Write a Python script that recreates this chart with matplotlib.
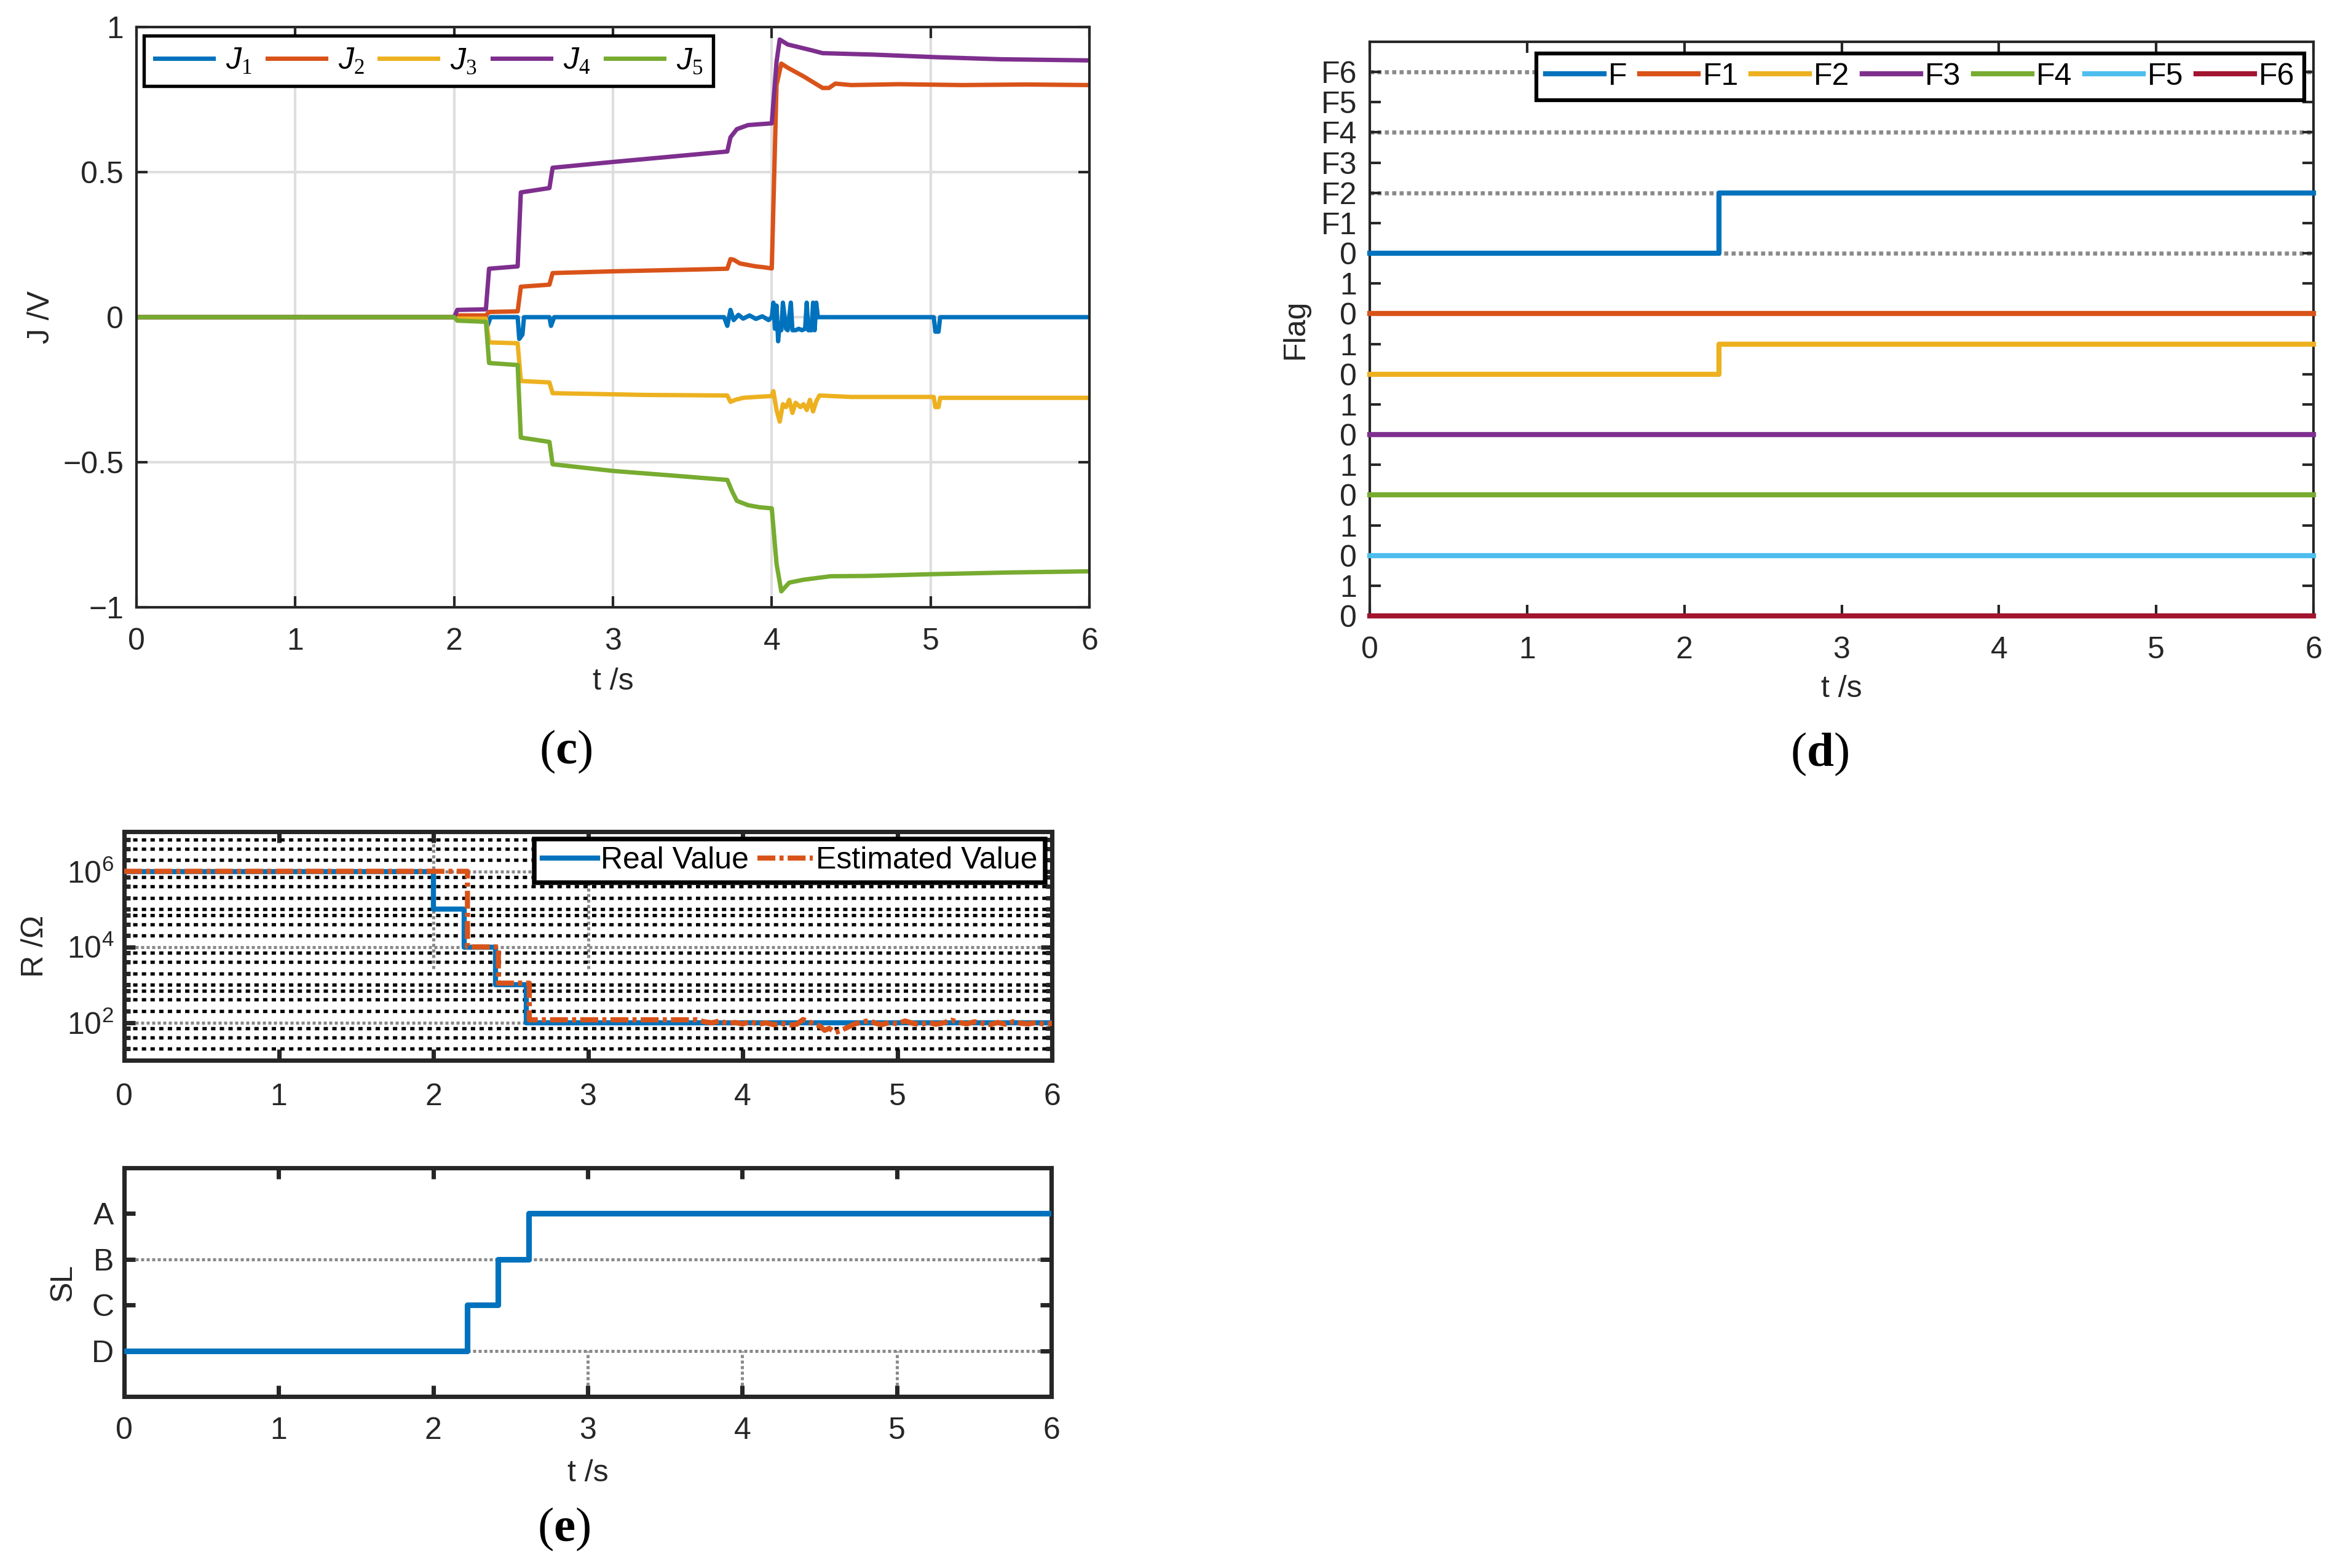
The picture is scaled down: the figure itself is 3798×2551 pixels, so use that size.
import numpy as np
import matplotlib
matplotlib.use("Agg")
import matplotlib.pyplot as plt
from matplotlib.ticker import FixedLocator, NullFormatter

plt.rcParams["font.family"] = ["Liberation Sans", "DejaVu Sans"]
plt.rcParams["mathtext.fontset"] = "custom"
plt.rcParams["mathtext.it"] = "Liberation Sans:italic"
plt.rcParams["mathtext.rm"] = "Liberation Serif"
plt.rcParams["mathtext.bf"] = "Liberation Serif:bold"

DARK = "#262626"
colors = ["#0072BD", "#D95319", "#EDB120", "#7E2F8E", "#77AC30", "#4DBEEE", "#A2142F"]

# ---------- (c) J values, (t, J) points
J1 = [(0, 0), (2.20, 0), (2.21, -0.03), (2.23, 0), (2.40, 0), (2.41, -0.075), (2.43, -0.06), (2.44, 0),
      (2.60, 0), (2.61, -0.03), (2.63, 0), (3.70, 0), (3.72, -0.03), (3.74, 0.025), (3.76, -0.01),
      (3.79, 0.008), (3.82, -0.005), (3.86, 0.006), (3.90, -0.006), (3.94, 0.003), (3.98, -0.01),
      (4.00, 0.0), (4.01, 0.05), (4.02, -0.04), (4.03, 0.04), (4.04, -0.083), (4.05, -0.02),
      (4.06, -0.045), (4.07, 0.05), (4.09, -0.04), (4.10, -0.045), (4.12, 0.05), (4.13, -0.045),
      (4.15, -0.045), (4.17, -0.04), (4.19, -0.045), (4.21, -0.04), (4.22, 0.05), (4.23, -0.045),
      (4.25, -0.045), (4.26, 0.05), (4.27, -0.045), (4.28, 0.05), (4.29, 0.0), (4.31, 0.0),
      (5.02, 0.0), (5.03, -0.05), (5.05, -0.05), (5.06, 0.0), (6.0, 0.0)]
J2 = [(0, 0), (2.0, 0), (2.02, 0.006), (2.2, 0.006), (2.22, 0.018), (2.4, 0.02), (2.42, 0.105),
      (2.6, 0.112), (2.62, 0.152), (3.0, 0.158), (3.5, 0.164), (3.72, 0.167), (3.74, 0.2),
      (3.76, 0.198), (3.8, 0.185), (3.85, 0.18), (3.9, 0.175), (3.95, 0.172), (4.0, 0.168),
      (4.03, 0.8), (4.06, 0.874), (4.1, 0.86), (4.15, 0.845), (4.2, 0.83), (4.26, 0.81),
      (4.32, 0.79), (4.36, 0.79), (4.4, 0.805), (4.5, 0.8), (4.8, 0.803), (5.2, 0.8),
      (5.6, 0.802), (6.0, 0.8)]
J3 = [(0, 0), (2.0, 0), (2.02, -0.005), (2.2, -0.005), (2.22, -0.087), (2.4, -0.09), (2.42, -0.22),
      (2.6, -0.225), (2.62, -0.262), (3.2, -0.268), (3.72, -0.27), (3.74, -0.292), (3.77, -0.285),
      (3.82, -0.278), (3.9, -0.275), (4.0, -0.272), (4.01, -0.255), (4.03, -0.32), (4.05, -0.36),
      (4.07, -0.3), (4.09, -0.31), (4.11, -0.285), (4.13, -0.33), (4.15, -0.295), (4.18, -0.31),
      (4.2, -0.3), (4.22, -0.32), (4.24, -0.285), (4.26, -0.325), (4.28, -0.29), (4.3, -0.27),
      (4.5, -0.275), (5.02, -0.275), (5.03, -0.31), (5.05, -0.31), (5.06, -0.278), (6.0, -0.278)]
J4 = [(0, 0), (2.0, 0), (2.02, 0.025), (2.2, 0.027), (2.22, 0.167), (2.4, 0.175), (2.42, 0.43),
      (2.6, 0.445), (2.62, 0.515), (3.0, 0.535), (3.4, 0.555), (3.72, 0.571), (3.74, 0.62),
      (3.78, 0.648), (3.85, 0.662), (3.92, 0.665), (4.0, 0.668), (4.03, 0.88), (4.05, 0.957),
      (4.1, 0.94), (4.16, 0.932), (4.25, 0.92), (4.32, 0.91), (4.64, 0.905), (5.04, 0.896),
      (5.44, 0.889), (6.0, 0.885)]
J5 = [(0, 0), (2.0, 0), (2.02, -0.012), (2.2, -0.016), (2.22, -0.158), (2.4, -0.165), (2.42, -0.415),
      (2.6, -0.43), (2.62, -0.507), (3.0, -0.53), (3.4, -0.547), (3.72, -0.561), (3.75, -0.6),
      (3.78, -0.633), (3.85, -0.648), (3.92, -0.655), (4.0, -0.659), (4.03, -0.85), (4.06, -0.945),
      (4.11, -0.915), (4.2, -0.905), (4.37, -0.893), (4.6, -0.892), (5.0, -0.886), (5.5, -0.88),
      (6.0, -0.876)]
J_labels = [r"$J_{\mathit{1}}$", r"$J_{\mathit{2}}$", r"$J_{\mathit{3}}$", r"$J_{\mathit{4}}$", r"$J_{\mathit{5}}$"]

# ---------- (d) flags
flag_t = [0, 2.22, 6]
flag_vals = {
    "F": [0, 2, 2],
    "F1": [0, 0, 0],
    "F2": [0, 1, 1],
    "F3": [0, 0, 0],
    "F4": [0, 0, 0],
    "F5": [0, 0, 0],
    "F6": [0, 0, 0],
}
flag_base = [12, 10, 8, 6, 4, 2, 0]
flag_ylabels = ["0", "1", "0", "1", "0", "1", "0", "1", "0", "1", "0", "1", "0",
                "F1", "F2", "F3", "F4", "F5", "F6"]

# ---------- (e) resistance and sensitivity level
R_real_t = [0, 2.0, 2.2, 2.4, 2.6, 6.0]
R_real = [1e6, 1e5, 1e4, 1e3, 1e2, 1e2]
R_est = [(0, 1e6), (2.22, 1e6), (2.22, 1e4), (2.42, 1e4), (2.42, 1.1e3), (2.62, 1.1e3), (2.62, 118),
         (3.7, 118), (3.75, 105), (3.8, 98), (3.85, 110), (3.9, 95), (3.95, 100), (4.0, 92),
         (4.05, 105), (4.1, 90), (4.15, 98), (4.2, 88), (4.25, 95), (4.3, 85), (4.35, 90),
         (4.39, 120), (4.44, 100), (4.5, 80), (4.53, 62), (4.56, 70), (4.6, 55), (4.63, 60),
         (4.68, 75), (4.72, 90), (4.78, 105), (4.82, 112), (4.86, 95), (4.9, 88), (4.95, 100),
         (5.0, 92), (5.05, 110), (5.1, 95), (5.15, 88), (5.2, 100), (5.25, 90), (5.3, 98),
         (5.35, 115), (5.4, 100), (5.45, 92), (5.5, 105), (5.55, 95), (5.6, 88), (5.65, 100),
         (5.7, 90), (5.75, 105), (5.8, 95), (5.85, 92), (5.9, 100), (5.95, 90), (6.0, 95)]
SL_t = [0, 2.22, 2.42, 2.62, 6.0]
SL = [1, 2, 3, 4, 4]
SL_labels = ["D", "C", "B", "A"]

W, H = 3798, 2551
fig = plt.figure(figsize=(W / 300, H / 300), dpi=300)


def box(l, t, r, b):
    return [l / W, 1 - b / H, (r - l) / W, (b - t) / H]


def style(ax, lw, xpad, ypad):
    for s in ax.spines.values():
        s.set_linewidth(lw)
        s.set_color(DARK)
    ax.tick_params(which="both", direction="in", top=True, right=True, width=lw,
                   color=DARK, labelcolor=DARK, labelsize=12)
    ax.tick_params(which="major", length=4.4)
    ax.tick_params(which="minor", length=2.4)
    ax.tick_params(axis="x", pad=xpad)
    ax.tick_params(axis="y", pad=ypad)


# ===== (c)
ax = fig.add_axes(box(222, 44, 1772, 988))
for pts, c, lab in zip([J1, J2, J3, J4, J5], colors[:5], J_labels):
    t, v = zip(*pts)
    ax.plot(t, v, color=c, lw=1.7, label=lab)
ax.set_xlim(0, 6)
ax.set_ylim(-1, 1)
ax.set_xticks(range(7))
ax.set_yticks([-1, -0.5, 0, 0.5, 1])
ax.set_yticklabels(["\u22121", "\u22120.5", "0", "0.5", "1"])
ax.grid(True, color="#dedede", lw=1.0)
style(ax, 1.0, 8, 5)
ax.set_xlabel("t /s", fontsize=12, color=DARK)
ax.xaxis.set_label_coords(0.5, -0.128)
ax.xaxis.label.set_va("center")
ax.set_ylabel("J /V", fontsize=12, color=DARK)
ax.yaxis.set_label_coords(-0.1, 0.5)
ax.yaxis.label.set_va("center")
leg = ax.legend(loc="upper left", bbox_to_anchor=(0.008, 0.985), borderaxespad=0, ncol=5,
                fontsize=12, fancybox=False, framealpha=1, handlelength=1.9,
                handletextpad=0.4, columnspacing=0.5, borderpad=0.35)
leg.get_frame().set_edgecolor("k")
leg.get_frame().set_linewidth(1.3)

# ===== (d)
ax = fig.add_axes(box(2228, 68, 3763, 1002))
for lvl in [0, 6, 12, 14, 16, 18]:
    ax.axhline(lvl, color="#8a8a8a", lw=1.6, ls=(0, (1, 0.8)), zorder=1)
for (name, vals), base, c in zip(flag_vals.items(), flag_base, colors):
    ax.plot(flag_t, np.array(vals) + base, color=c, lw=2.0, drawstyle="steps-post",
            label=name, clip_on=False, zorder=3)
ax.set_xlim(0, 6)
ax.set_ylim(0, 19)
ax.set_xticks(range(7))
ax.set_yticks(range(len(flag_ylabels)))
ax.set_yticklabels(flag_ylabels)
style(ax, 1.0, 8, 5)
ax.set_xlabel("t /s", fontsize=12, color=DARK)
ax.xaxis.set_label_coords(0.5, -0.127)
ax.xaxis.label.set_va("center")
ax.set_ylabel("Flag", fontsize=12, color=DARK)
ax.yaxis.set_label_coords(-0.079, 0.5)
ax.yaxis.label.set_va("center")
leg = ax.legend(loc="upper right", bbox_to_anchor=(0.99, 0.98), borderaxespad=0, ncol=7,
                fontsize=12, fancybox=False, framealpha=1, handlelength=1.9,
                handletextpad=0.15, columnspacing=0.4, borderpad=0.3)
leg.get_frame().set_edgecolor("k")
leg.get_frame().set_linewidth(1.5)

# ===== (e) top: R
ax = fig.add_axes(box(202, 1353, 1711, 1725))
ax.set_yscale("log")
ax.plot(R_real_t, R_real, color=colors[0], lw=2.0, drawstyle="steps-post", label="Real Value", zorder=3)
te, re = zip(*R_est)
ax.plot(te, re, color=colors[1], lw=2.0, dashes=(3.5, 0.8, 0.8, 0.8), label="Estimated Value", zorder=4)
ax.set_xlim(0, 6)
ax.set_ylim(10 ** 1.0, 10 ** 7.05)
ax.set_xticks(range(7))
ax.yaxis.set_major_locator(FixedLocator([1e2, 1e4, 1e6]))
minor = [k * 10.0 ** d for d in range(1, 7) for k in (1, 2, 4, 7) if k * 10.0 ** d not in (1e2, 1e4, 1e6)]
ax.yaxis.set_minor_locator(FixedLocator(minor))
ax.yaxis.set_minor_formatter(NullFormatter())
ax.grid(True, which="minor", axis="y", color="k", lw=1.3, ls=(0, (1.3, 1.3)))
ax.grid(True, which="major", axis="y", color="#8a8a8a", lw=1.2, ls=(0, (1, 0.8)))
for xv in [2, 3]:
    ax.axvline(xv, ymin=0.40, ymax=1, color="#8a8a8a", lw=1.2, ls=(0, (1, 0.8)), zorder=1)
style(ax, 1.7, 9, 4)
ax.set_ylabel("R /\u03a9", fontsize=12, color=DARK)
ax.yaxis.set_label_coords(-0.096, 0.5)
ax.yaxis.label.set_va("center")
leg = ax.legend(loc="upper right", bbox_to_anchor=(0.993, 0.968), borderaxespad=0, ncol=2,
                fontsize=12, fancybox=False, framealpha=1, handlelength=1.8,
                handletextpad=0.1, columnspacing=0.3, borderpad=0.25)
leg.get_frame().set_edgecolor("k")
leg.get_frame().set_linewidth(1.8)

# ===== (e) bottom: SL
ax = fig.add_axes(box(202, 1900, 1710, 2272))
ax.axhline(3, color="#8a8a8a", lw=1.2, ls=(0, (1, 0.8)), zorder=1)
ax.axhline(1, color="#8a8a8a", lw=1.2, ls=(0, (1, 0.8)), zorder=1)
for xv in [3, 4, 5]:
    ax.plot([xv, xv], [0, 1], color="#8a8a8a", lw=1.2, ls=(0, (1, 0.8)), zorder=1)
ax.plot(SL_t, SL, color=colors[0], lw=2.2, drawstyle="steps-post", zorder=3)
ax.set_xlim(0, 6)
ax.set_ylim(0, 5)
ax.set_xticks(range(7))
ax.set_yticks([1, 2, 3, 4])
ax.set_yticklabels(SL_labels)
style(ax, 1.7, 8, 4)
ax.set_xlabel("t /s", fontsize=12, color=DARK)
ax.xaxis.set_label_coords(0.5, -0.336)
ax.xaxis.label.set_va("center")
ax.set_ylabel("SL", fontsize=12, color=DARK)
ax.yaxis.set_label_coords(-0.066, 0.5)
ax.yaxis.label.set_va("center")

# panel labels
fig.text(920 / W, 1 - 1223 / H, r"$(\mathbf{c})$", fontsize=19, ha="center", va="center")
fig.text(2960 / W, 1 - 1227 / H, r"$(\mathbf{d})$", fontsize=19, ha="center", va="center")
fig.text(917 / W, 1 - 2488 / H, r"$(\mathbf{e})$", fontsize=19, ha="center", va="center")

fig.savefig("out.png", dpi=300)
